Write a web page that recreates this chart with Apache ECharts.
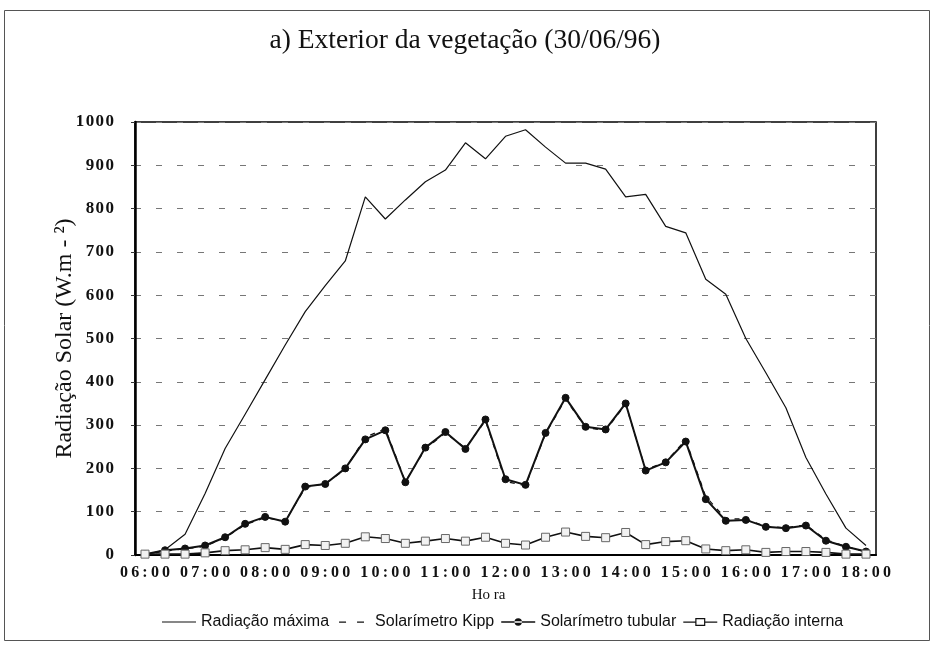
<!DOCTYPE html>
<html>
<head>
<meta charset="utf-8">
<script src="https://cdn.jsdelivr.net/npm/echarts@6/dist/echarts.min.js"></script>
<style>
html,body{margin:0;padding:0;background:#fff;}
#chart{width:932px;height:645px;}
</style>
</head>
<body>
<div id="chart"></div>
<script>
const categories = [
 "06:00","06:20","06:40","07:00","07:20","07:40","08:00","08:20","08:40",
 "09:00","09:20","09:40","10:00","10:20","10:40","11:00","11:20","11:40",
 "12:00","12:20","12:40","13:00","13:20","13:40","14:00","14:20","14:40",
 "15:00","15:20","15:40","16:00","16:20","16:40","17:00","17:20","17:40","18:00"
];
const radiacaoMaxima = [0,12,48,142,246,325,405,485,562,622,679,827,776,820,862,889,952,915,967,982,942,905,905,891,827,833,759,744,637,602,500,421,340,225,141,62,22];
const solarimetroKipp = [1,9,14,20,40,70,86,78,155,165,198,272,292,170,245,282,247,310,170,160,280,360,294,288,348,197,215,266,135,84,83,66,63,70,35,20,7];
const solarimetroTubular = [2,11,15,22,41,72,88,77,158,164,200,267,288,168,248,284,245,313,175,162,282,363,296,290,350,195,214,262,129,79,81,65,62,68,33,19,8];
const radiacaoInterna = [2,2,2,5,10,12,17,13,24,22,27,42,38,27,32,38,32,41,27,23,41,53,43,40,52,24,31,33,14,10,12,6,8,8,6,2,2];
const seriesNames = ['Radiação máxima','Solarímetro Kipp','Solarímetro tubular','Radiação interna'];

const SERIF = '"Liberation Serif","Times New Roman",serif';
const SANS = '"Liberation Sans",Arial,sans-serif';
const spacedX = s => String(s).split('').join('\u2009');
const spacedY = s => String(s).split('').join('\u200A');

const icons = [
  'path://M0,4L34,4L34,5L0,5Z',
  'path://M0,0.01h0.01v0.01h-0.01z M3,4h7v1.2h-7z M21,4h7v1.2h-7z M34,8.99h0.01v0.01h-0.01z',
  'path://M0,3.7h34v1.6h-34z M17,0.8a3.7,3.7 0 1,0 0.01,0z M0,0h0.01v0.01h-0.01z M34,8.99h0.01v0.01h-0.01z',
  'path://M0,4h12v1.3h-12z M22,4h12v1.3h-12z M12,0.5h10v8h-10z M13.2,1.7v5.6h7.6v-5.6z M0,0h0.01v0.01h-0.01z M34,8.99h0.01v0.01h-0.01z'
];

const chart = echarts.init(document.getElementById('chart'), null, {renderer:'canvas'});
chart.setOption({
  animation:false,
  backgroundColor:'#fff',
  title:{
    text:'a) Exterior da vegetação (30/06/96)',
    left:460, top:22, textAlign:'center',
    textStyle:{fontFamily:SERIF, fontSize:27.5, fontWeight:'normal', color:'#111'}
  },
  graphic:[{
    type:'rect', shape:{x:4.5,y:10.5,width:925,height:630},
    style:{fill:'none', stroke:'#555', lineWidth:1}, silent:true, z:-1
  }],
  legend:{
    left:157, top:609, itemWidth:34, itemHeight:9, itemGap:7,
    textStyle:{fontFamily:SANS, fontSize:16, color:'#111'},
    data:seriesNames.map((n,i)=>({name:n, icon:icons[i], itemStyle:{color:'#111', borderWidth:0}}))
  },
  grid:{left:135, right:56, top:122, bottom:90, show:true, borderColor:'#000', borderWidth:1.5, backgroundColor:'transparent'},
  xAxis:{
    type:'category', data:categories, boundaryGap:true,
    name:'Ho ra', nameLocation:'middle', nameGap:33, nameMoveOverlap:false,
    nameTextStyle:{fontFamily:SERIF, fontSize:15, color:'#111', padding:[0,34,0,0]},
    axisLine:{lineStyle:{color:'#000', width:2}},
    axisTick:{show:false},
    axisLabel:{interval:2, margin:10, fontFamily:SERIF, fontWeight:'bold', fontSize:16, color:'#111', formatter:v=>spacedX(v)},
    splitLine:{show:false}
  },
  yAxis:{
    type:'value', min:0, max:1000, interval:100,
    name:'Radiação Solar (W.m - ²)', nameLocation:'middle', nameGap:58, nameMoveOverlap:false,
    nameTextStyle:{fontFamily:SERIF, fontSize:24, color:'#111'},
    axisLine:{show:true, lineStyle:{color:'#000', width:2.5}},
    axisTick:{show:true, length:4, lineStyle:{color:'#333', width:1}},
    axisLabel:{margin:21, fontFamily:SERIF, fontWeight:'bold', fontSize:17, color:'#111', formatter:v=>spacedY(v)},
    splitLine:{show:true, lineStyle:{color:'#777', width:1, type:[6,15]}}
  },
  series:[
    {name:seriesNames[0], type:'line', data:radiacaoMaxima, symbol:'none', showSymbol:false,
     lineStyle:{color:'#111', width:1.2}, itemStyle:{color:'#111'}, z:3},
    {name:seriesNames[1], type:'line', data:solarimetroKipp, symbol:'none', showSymbol:false,
     lineStyle:{color:'#111', width:1.2, type:[5,6]}, itemStyle:{color:'#111'}, z:2},
    {name:seriesNames[2], type:'line', data:solarimetroTubular, symbol:'circle', symbolSize:7,
     lineStyle:{color:'#111', width:2}, itemStyle:{color:'#111', borderColor:'#111'}, z:4},
    {name:seriesNames[3], type:'line', data:radiacaoInterna, symbol:'rect', symbolSize:8,
     lineStyle:{color:'#111', width:1.6}, itemStyle:{color:'#f2f2f2', borderColor:'#666', borderWidth:1}, z:5}
  ]
});
</script>
</body>
</html>
